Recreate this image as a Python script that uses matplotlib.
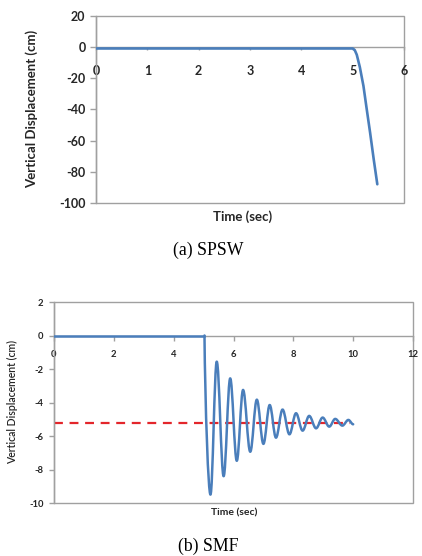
import matplotlib
matplotlib.use("Agg")
import matplotlib.pyplot as plt
from matplotlib.path import Path
from matplotlib.patches import PathPatch, Rectangle

plt.rcParams["axes.unicode_minus"] = False

# ---------------- data ----------------
# (a) SPSW
spsw_time = [0, 1, 2, 3, 4, 5.0, 5.04, 5.08, 5.14, 5.21, 5.27, 5.34, 5.41, 5.48]
spsw_disp = [-1, -1, -1, -1, -1, -1, -2, -5, -13, -25, -39, -55, -72, -88]
spsw_xticks = [0, 1, 2, 3, 4, 5, 6]
spsw_yticks = [20, 0, -20, -40, -60, -80, -100]

# (b) SMF : flat start, then extremes of the decaying oscillation
smf_flat_time = [0, 5.03]
smf_flat_disp = [0, 0]
smf_ext_time = [5.03, 5.23, 5.44, 5.67, 5.89, 6.11, 6.32, 6.56, 6.78, 7.00, 7.21,
                7.42, 7.64, 7.87, 8.09, 8.31, 8.53, 8.76, 8.98, 9.20, 9.40, 9.64,
                9.84, 10.0]
smf_ext_disp = [0, -9.5, -1.56, -8.4, -2.56, -7.48, -3.25, -6.94, -3.83, -6.47, -4.15,
                -6.10, -4.42, -5.90, -4.64, -5.68, -4.80, -5.54, -4.90, -5.44, -4.98,
                -5.38, -5.04, -5.30]
smf_mean_time = [0, 9.9]
smf_mean_disp = [-5.2, -5.2]
smf_xticks = [0, 2, 4, 6, 8, 10, 12]
smf_yticks = [2, 0, -2, -4, -6, -8, -10]

# ---------------- style ----------------
W, H = 422, 556
BLUE = "#4a7ebb"
RED = "#e3262b"
GREY = "#a0a0a0"
TXT = "#262626"
SANS = ["Lato", "DejaVu Sans"]
SERIF = ["Liberation Serif", "DejaVu Serif"]

fig = plt.figure(figsize=(W / 100, H / 100), dpi=100)
fig.patch.set_facecolor("white")


def px_axes(l, t, r, b):
    return fig.add_axes([l / W, 1 - b / H, (r - l) / W, (b - t) / H])


def style_axes(ax, tick_fs, xtick_len, xpad, ytick_len, ypad):
    ax.spines["top"].set_visible(False)
    ax.spines["right"].set_visible(False)
    ax.spines["bottom"].set_position(("data", 0))
    for s in ("bottom", "left"):
        ax.spines[s].set_color(GREY)
        ax.spines[s].set_linewidth(1.0)
    ax.add_patch(Rectangle((0, 0), 1, 1, transform=ax.transAxes, fill=False,
                           edgecolor=GREY, lw=1.0, clip_on=False, zorder=0.5))
    ax.tick_params(axis="x", direction="out", length=xtick_len, width=1, color=GREY,
                   pad=xpad, labelsize=tick_fs, labelcolor=TXT)
    ax.tick_params(axis="y", direction="out", length=ytick_len, width=1, color=GREY,
                   pad=ypad, labelsize=tick_fs, labelcolor=TXT)
    for lab in ax.get_xticklabels() + ax.get_yticklabels():
        lab.set_family(SANS)
        lab.set_fontweight("bold")


# ---------------- (a) SPSW ----------------
ax1 = px_axes(96, 15.7, 404, 203)
ax1.set_xlim(0, 6)
ax1.set_ylim(-100, 20)
ax1.set_xticks(spsw_xticks)
ax1.set_yticks(spsw_yticks)
ax1.plot(spsw_time, spsw_disp, color=BLUE, lw=1.9, solid_capstyle="round",
         solid_joinstyle="round", zorder=3)
style_axes(ax1, 9, 2.5, 10.5, 4.0, 3.5)
ax1.set_xlabel("Time (sec)", family=SANS, fontweight="bold", fontsize=9.5, color=TXT,
               va="center")
ax1.xaxis.set_label_coords(0.476, -0.073)
ax1.set_ylabel("Vertical Displacement (cm)", family=SANS, fontweight="bold",
               fontsize=9.5, color=TXT, va="center")
ax1.yaxis.set_label_coords(-0.209, 0.5)

fig.text(208.5 / W, 1 - 250 / H, "(a) SPSW", family=SERIF, fontsize=12.8,
         ha="center", va="center", color="black")

# ---------------- (b) SMF ----------------
ax2 = px_axes(54, 302, 413, 503)
ax2.set_xlim(0, 12)
ax2.set_ylim(-10, 2)
ax2.set_xticks(smf_xticks)
ax2.set_yticks(smf_yticks)

ax2.plot(smf_mean_time, smf_mean_disp, color=RED, lw=1.6, dashes=(4, 3), zorder=2)
ax2.plot(smf_flat_time, smf_flat_disp, color=BLUE, lw=1.8, zorder=3,
         solid_joinstyle="round")

# smooth curve through the extremes (Bezier, horizontal tangent at extremes)
verts = [(smf_ext_time[0], smf_ext_disp[0])]
codes = [Path.MOVETO]
for i in range(len(smf_ext_time) - 1):
    t0, y0 = smf_ext_time[i], smf_ext_disp[i]
    t1, y1 = smf_ext_time[i + 1], smf_ext_disp[i + 1]
    dt = t1 - t0
    if i == 0:
        c1 = (t0 + 0.12 * dt, y0 + 0.45 * (y1 - y0))
    else:
        c1 = (t0 + 0.364 * dt, y0)
    c2 = (t1 - 0.364 * dt, y1)
    verts += [c1, c2, (t1, y1)]
    codes += [Path.CURVE4] * 3
ax2.add_patch(PathPatch(Path(verts, codes), fill=False, edgecolor=BLUE, lw=1.8,
                        joinstyle="round", capstyle="round", zorder=3))

style_axes(ax2, 6.8, 3.5, 7, 3.5, 4)
ax2.set_xlabel("Time (sec)", family=SANS, fontweight="bold", fontsize=7.5, color=TXT,
               va="center")
ax2.xaxis.set_label_coords(0.503, -0.05)
ax2.set_ylabel("Vertical Displacement (cm)", family=SANS, fontweight="semibold",
               fontsize=7.6, color=TXT, va="center")
ax2.yaxis.set_label_coords(-0.115, 0.5)

fig.text(208.5 / W, 1 - 546 / H, "(b) SMF", family=SERIF, fontsize=12.8,
         ha="center", va="center", color="black")

fig.savefig("out.png", dpi=100, facecolor="white")
